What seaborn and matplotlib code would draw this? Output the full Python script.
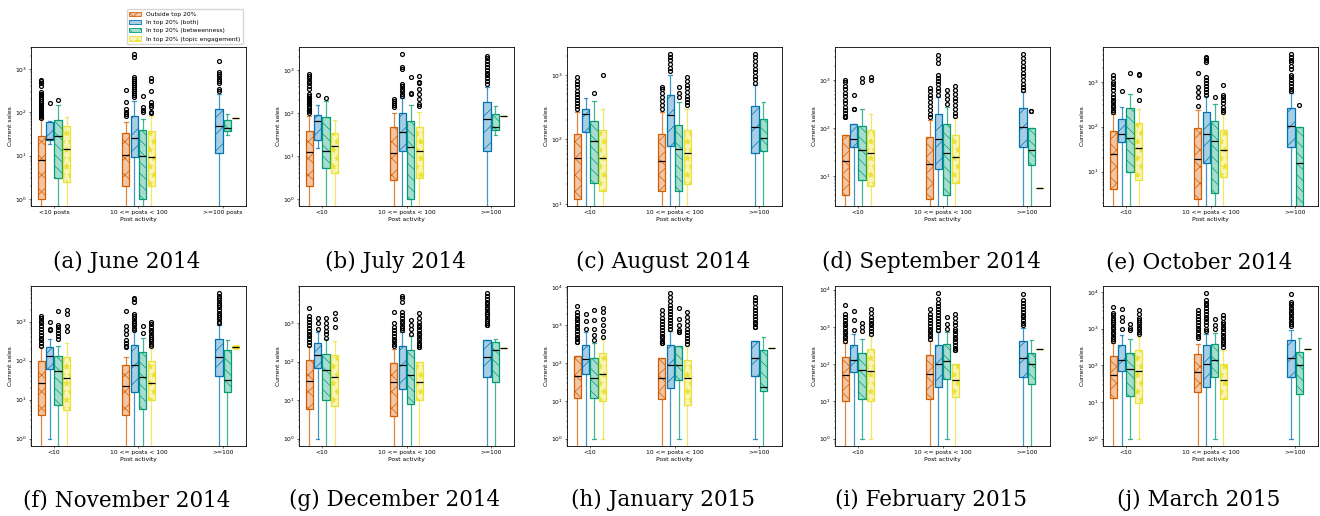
import numpy as np
import pandas as pd
import matplotlib
matplotlib.use("Agg")
import matplotlib.pyplot as plt
from matplotlib.patches import Patch
from matplotlib.colors import to_rgba
import seaborn as sns

MONTHS = ["June 2014", "July 2014", "August 2014", "September 2014", "October 2014",
          "November 2014", "December 2014", "January 2015", "February 2015", "March 2015"]
TAGS = "abcdefghij"
GROUPS = ["<10", "10 <= posts < 100", ">=100"]
GROUPS_FIRST = ["<10 posts", "10 <= posts < 100", ">=100 posts"]
SEGMENTS = ["Outside top 20%", "In top 20% (both)", "In top 20% (betweenness)",
            "In top 20% (topic engagement)"]
COLORS = ["#d55e00", "#0173b2", "#029e73", "#ece133"]
HATCHES = ["xx", "//", "\\\\\\", "**"]

# Box summaries per segment (rows) and activity group (columns):
# (lower whisker, Q1, median, Q3, upper whisker); None = no users in that cell.
JUN14_BOX = [
    [(0, 1, 7.9, 29, 70), (0, 1.96, 10.4, 33, 59), None],
    [(18, 23, 24, 59, 62), (0, 9.1, 25.5, 84, 186), (0, 11.5, 49, 120, 265)],
    [(0, 3.0, 28, 68, 147), (0, 1.0, 10, 38, 70), (30, 36, 43, 68, 91)],
    [(0, 2.4, 14.2, 47.5, 79), (0, 2.0, 9.1, 36.5, 80), (74, 74, 74, 74, 74)],
]
JUN14_OUT = [
    [[75, 80, 88, 96, 105, 115, 125, 138, 150, 165, 180, 200, 220, 245, 270, 290, 410, 470, 520, 560],
     [84, 91, 104, 120, 177, 330], []],
    [[160], [225, 250, 280, 310, 350, 390, 430, 480, 540, 600, 640, 1900, 2200],
     [315, 345, 470, 540, 590, 700, 760, 840, 1560]],
    [[196], [100, 113, 130, 240], []],
    [[], [95, 100, 130, 150, 170, 305, 520, 610], []],
]

JUL14_BOX = [
    [(0, 2.0, 12.2, 39, 85), (0, 2.8, 11.5, 46, 100), None],
    [(15, 24, 66, 91, 155), (0, 13.3, 35.5, 100, 222), (0, 13.3, 73, 178, 395)],
    [(0, 5.2, 13.3, 79, 186), (0, 1.0, 15.9, 66, 154), (31, 40, 48, 95, 143)],
    [(0, 4.0, 16.8, 34, 70), (0, 3.0, 13.3, 46, 108), (84, 84, 84, 84, 84)],
]
JUL14_OUT = [
    [[100, 110, 120, 132, 145, 160, 175, 190, 210, 230, 255, 280, 360, 430, 490, 560, 650, 740, 800],
     [135, 150, 170, 186, 210], []],
    [[266], [250, 280, 320, 370, 420, 470, 1050, 1160, 2350],
     [470, 560, 650, 750, 870, 1000, 1200, 1400, 1650, 1900, 2150]],
    [[230], [275, 300, 680], []],
    [[], [143, 160, 210, 275, 360, 490, 520, 740], []],
]

AUG14_BOX = [
    [(0, 12, 51, 120, 270), (0, 15.8, 46, 120, 270), None],
    [(0, 132, 250, 300, 440), (0, 78, 240, 490, 1000), (0, 61, 158, 325, 700)],
    [(0, 21, 94, 190, 400), (0, 15.8, 70, 170, 380), (0, 66, 105, 205, 380)],
    [(0, 15.8, 51, 142, 300), (0, 20, 61, 142, 300), None],
]
AUG14_OUT = [
    [[300, 330, 370, 410, 460, 510, 570, 640, 720, 810, 930],
     [300, 340, 390, 450, 520, 600, 660], []],
    [[], [1150, 1300, 1500, 1700, 1900, 2100],
     [760, 860, 980, 1100, 1250, 1450, 1650, 1900, 2100]],
    [[520], [450, 520, 660], []],
    [[1000], [340, 380, 430, 480, 550, 620, 700, 800, 930], []],
]

SEP14_BOX = [
    [(0, 4.0, 20, 70, 170), (0, 3.3, 18, 65, 150), None],
    [(0, 40, 60, 120, 250), (0, 14, 60, 200, 450), (0, 40, 105, 263, 560)],
    [(0, 8, 35, 110, 250), (0, 4, 30, 120, 280), (0, 16.6, 35, 100, 230)],
    [(0, 6, 30, 90, 200), (0, 7, 25, 70, 160), (5.5, 5.5, 5.5, 5.5, 5.5)],
]
SEP14_OUT = [
    [[180, 210, 240, 280, 330, 390, 460, 540, 640, 760, 900, 1000],
     [170, 200, 240, 290, 350, 420, 500, 600, 700], []],
    [[500], [500, 600, 700, 820, 950, 1100, 1300, 2300, 2800, 3300],
     [620, 720, 850, 1000, 1200, 1400, 1700, 2000, 2400, 2900, 3500]],
    [[900, 1100], [320, 400, 500, 620], []],
    [[1000, 1150], [180, 210, 250, 300, 360, 430, 520, 620, 760], []],
]

OCT14_BOX = [
    [(0, 4.1, 24.6, 81, 190), (0, 2.5, 19.4, 96, 232), None],
    [(0, 46, 70, 152, 275), (0, 15.8, 68, 213, 475), (0, 34.6, 103, 265, 560)],
    [(0, 10, 57, 262, 540), (0, 3.3, 48.6, 134, 325), (0, 0, 15.3, 99, 99)],
    [(0, 6.5, 33, 123, 252), (0, 7.8, 30, 84, 190), None],
]
OCT14_OUT = [
    [[210, 240, 270, 310, 350, 400, 460, 540, 640, 760, 900, 1000, 1200, 1400],
     [285, 460, 590, 760, 1550], []],
    [[620], [520, 600, 700, 820, 950, 1100, 1300, 2700, 3000, 3300, 3600],
     [620, 700, 800, 950, 1100, 1250, 1450, 1900, 2300, 2700, 3100, 3600, 4100]],
    [[1550], [460], [300]],
    [[385, 640, 1380, 1500], [210, 240, 280, 330, 390, 460, 520, 830], []],
]

NOV14_BOX = [
    [(0, 4.1, 26.5, 95, 225), (0, 4.1, 21.8, 75, 123), None],
    [(1, 62, 135, 220, 360), (0, 15.6, 75, 253, 590), (0, 39.5, 123, 350, 800)],
    [(0, 7.1, 53, 135, 230), (0, 5.9, 38, 165, 380), (0, 15.6, 31, 190, 340)],
    [(0, 5.5, 35.6, 123, 290), (0, 9.6, 27, 95, 220), (200, 205, 220, 235, 245)],
]
NOV14_OUT = [
    [[240, 280, 330, 390, 460, 540, 640, 760, 900, 1050, 1250, 1400],
     [220, 240, 280, 330, 490, 620, 750, 1900], []],
    [[610, 640, 960], [620, 700, 800, 920, 1050, 1200, 1400, 1600, 3100, 3700, 4000],
     [900, 1000, 1150, 1300, 1500, 1700, 2000, 2300, 2600, 3000, 3500, 4000, 4600, 5300]],
    [[360, 420, 510, 620, 720, 840, 1850], [510, 790], []],
    [[560, 750, 1600, 2000], [240, 270, 310, 350, 400, 460, 530, 620, 720, 850, 960], []],
]

DEC14_BOX = [
    [(0, 6, 32, 110, 260), (0, 4, 30, 95, 220), None],
    [(1, 70, 150, 300, 600), (0, 20, 80, 260, 600), (0, 40, 130, 370, 900)],
    [(0, 10, 60, 160, 380), (0, 8, 45, 200, 480), (0, 30, 200, 330, 380)],
    [(0, 7, 40, 150, 350), (0, 10, 30, 100, 240), (230, 230, 230, 230, 230)],
]
DEC14_OUT = [
    [[280, 330, 390, 460, 540, 640, 760, 900, 1050, 1250, 1500, 2500],
     [250, 290, 340, 400, 470, 560, 680, 820, 1000, 1900], []],
    [[700, 1000, 1400], [650, 750, 870, 1000, 1150, 1350, 1600, 2000, 3500, 4500, 5200],
     [1000, 1150, 1300, 1500, 1750, 2000, 2300, 2700, 3100, 3600, 4200, 5000, 6000]],
    [[420, 520, 640, 800, 1000, 1400], [540, 700, 900, 1200], []],
    [[800, 1300, 1800], [270, 310, 360, 420, 490, 570, 660, 780, 900, 1100, 1400, 1800], []],
]

JAN15_BOX = [
    [(0, 12, 45, 150, 370), (0, 11, 40, 140, 340), None],
    [(0, 50, 130, 300, 650), (0, 22, 90, 300, 700), (1, 45, 140, 380, 900)],
    [(1, 12, 40, 140, 330), (1, 35, 90, 280, 650), (0, 18, 23, 220, 500)],
    [(1, 10, 50, 180, 420), (0, 8, 40, 120, 280), (250, 250, 250, 250, 250)],
]
JAN15_OUT = [
    [[420, 500, 600, 700, 830, 980, 1150, 1350, 1600, 1900, 2300, 3200],
     [380, 450, 530, 630, 750, 900, 1100, 1300, 1600, 2000, 2600], []],
    [[800, 1300, 2000], [800, 950, 1150, 1400, 1700, 2000, 2400, 2900, 3500, 4300, 5500, 7000],
     [1050, 1250, 1500, 1800, 2150, 2600, 3100, 3800, 4600, 5600]],
    [[400, 550, 800, 1400, 2600], [750, 1000, 1500, 2800], [380]],
    [[500, 700, 1000, 1500, 2200, 2800], [320, 380, 450, 540, 650, 800, 1000, 1300, 1700, 2300], []],
]

FEB15_BOX = [
    [(0, 10, 50, 160, 380), (0, 12, 55, 180, 420), None],
    [(0, 60, 130, 320, 650), (0, 25, 100, 330, 750), (0, 45, 150, 420, 950)],
    [(1, 12, 70, 200, 480), (1, 40, 120, 340, 750), (0, 30, 100, 200, 450)],
    [(1, 10, 65, 250, 580), (0, 13, 38, 100, 240), (260, 260, 260, 260, 260)],
]
FEB15_OUT = [
    [[430, 500, 580, 680, 800, 950, 1100, 1300, 1550, 1850, 2200, 3800],
     [480, 560, 650, 760, 900, 1050, 1250, 1500, 1800, 2200, 3000], []],
    [[850, 1500, 2600], [850, 1000, 1200, 1450, 1750, 2100, 2500, 3000, 3700, 4500, 5500, 8000],
     [1100, 1300, 1500, 1800, 2100, 2500, 3000, 3600, 4300, 5200, 7500]],
    [[800, 1000, 1300], [900, 1200, 1800], []],
    [[650, 780, 920, 1100, 1300, 1550, 1850, 2300, 3000],
     [280, 330, 390, 460, 540, 640, 760, 900, 1100, 1350, 1700, 2200], []],
]

MAR15_BOX = [
    [(0, 12.9, 53.5, 176, 400), (0, 18.7, 66, 208, 390), None],
    [(0, 69, 142, 365, 690), (0, 25.7, 111, 350, 700), (1, 48, 158, 500, 940)],
    [(1, 14.3, 78, 220, 520), (1, 48, 142, 390, 760), (0, 16.9, 100, 230, 540)],
    [(1, 9.6, 69, 257, 590), (0, 11.8, 40.5, 112, 255), (285, 285, 285, 285, 285)],
]
MAR15_OUT = [
    [[450, 520, 600, 700, 820, 950, 1100, 1300, 1500, 1750, 2000, 2300, 2700, 3900],
     [560, 650, 760, 900, 1050, 1250, 1500, 1800, 2200, 2700, 3200], []],
    [[960, 1620, 2080, 3400],
     [850, 1000, 1250, 1500, 1800, 2100, 2500, 3000, 3600, 4300, 5100, 6000, 9200],
     [1200, 1350, 1550, 1800, 2100, 2450, 2900, 3400, 4000, 4700, 5300, 8600]],
    [[900, 1050, 1370], [1000, 1240, 1860], []],
    [[700, 800, 950, 1100, 1300, 1500, 1700, 2000, 2500, 3200],
     [320, 370, 430, 500, 580, 680, 800, 950, 1100, 1300, 1550, 1900, 2300], []],
]

PANELS = [(JUN14_BOX, JUN14_OUT), (JUL14_BOX, JUL14_OUT), (AUG14_BOX, AUG14_OUT),
          (SEP14_BOX, SEP14_OUT), (OCT14_BOX, OCT14_OUT), (NOV14_BOX, NOV14_OUT),
          (DEC14_BOX, DEC14_OUT), (JAN15_BOX, JAN15_OUT), (FEB15_BOX, FEB15_OUT),
          (MAR15_BOX, MAR15_OUT)]


def sales_values(stats, fliers):
    """Sales sample whose quartiles, whisker ends and outliers equal the given summary."""
    lo, q1, med, q3, hi = stats
    k = len(fliers) + 2
    return [lo] + [q1] * k + [med] * k + [q3] * k + [hi] * (k - len(fliers)) + sorted(fliers)


def panel_frame(boxes, outliers, labels):
    rows = []
    for seg, seg_boxes, seg_out in zip(SEGMENTS, boxes, outliers):
        for label, stats, fl in zip(labels, seg_boxes, seg_out):
            if stats is None:
                continue
            for v in sales_values(stats, fl):
                rows.append((label, seg, v))
    return pd.DataFrame(rows, columns=["activity", "segment", "sales"])


FS = 4.33
plt.rcParams.update({
    "font.family": ["DejaVu Sans"],
    "axes.linewidth": 0.6,
    "hatch.linewidth": 0.5,
    "legend.fontsize": FS,
})

fig = plt.figure(figsize=(13.2, 5.16), dpi=100)
W, H = 1320, 516
lefts = [31, 299, 567, 835, 1103]
rows_px = [(47, 206), (286, 446)]
cap_y = [262, 500]

for i, (boxes, outliers) in enumerate(PANELS):
    r, c = divmod(i, 5)
    top, bot = rows_px[r]
    ax = fig.add_axes([lefts[c] / W, 1 - bot / H, 215 / W, (bot - top) / H])
    labels = GROUPS_FIRST if i == 0 else GROUPS
    df = panel_frame(boxes, outliers, labels)

    for seg, col, hatch in zip(SEGMENTS, COLORS, HATCHES):
        sub = df[df["segment"] == seg]
        n_before = len(ax.patches)
        sns.boxplot(data=sub, x="activity", y="sales", hue="segment",
                    order=labels, hue_order=SEGMENTS,
                    palette=dict(zip(SEGMENTS, COLORS)),
                    dodge=True, width=0.4, gap=0.15, whis=1.5, fill=True,
                    linecolor=col, linewidth=0.9, fliersize=2.8,
                    medianprops=dict(color="black", linewidth=0.9),
                    whiskerprops=dict(color=col, alpha=0.75),
                    capprops=dict(color=col, alpha=0.75),
                    flierprops=dict(marker="o", markerfacecolor="none",
                                    markeredgecolor="black", markersize=2.8,
                                    markeredgewidth=0.9),
                    legend=False, ax=ax)
        for p in ax.patches[n_before:]:
            p.set_facecolor(to_rgba(col, 0.35))
            p.set_edgecolor(col)
            p.set_hatch(hatch)
            p.set_linewidth(0.9)

    ax.set_yscale("log")
    pos = [v for v in df["sales"] if v > 0]
    lo, hi = np.log10(min(pos)), np.log10(max(pos))
    pad = 0.05 * (hi - lo)
    ax.set_ylim(10 ** (lo - pad), 10 ** (hi + pad))
    ax.set_xlim(-0.27, 2.27)

    ax.set_xlabel("Post activity", fontsize=FS, labelpad=1.5)
    ax.set_ylabel("Current sales", fontsize=FS, labelpad=1.5)
    ax.tick_params(axis="both", which="major", labelsize=FS, length=1.5, width=0.4, pad=1.5)
    ax.tick_params(axis="both", which="minor", length=0.9, width=0.3)
    for s in ax.spines.values():
        s.set_visible(True)

    if i == 0:
        handles = [Patch(facecolor=to_rgba(col, 0.35), edgecolor=col, hatch=h, linewidth=0.6)
                   for col, h in zip(COLORS, HATCHES)]
        ax.legend(handles, SEGMENTS, loc="lower right", bbox_to_anchor=(1, 1), fontsize=FS)

    fig.text((127 + 268 * c) / W, 1 - cap_y[r] / H, f"({TAGS[i]}) {MONTHS[i]}",
             ha="center", va="center", fontsize=15.5, family="DejaVu Serif")

fig.savefig("out.png", dpi=100)
